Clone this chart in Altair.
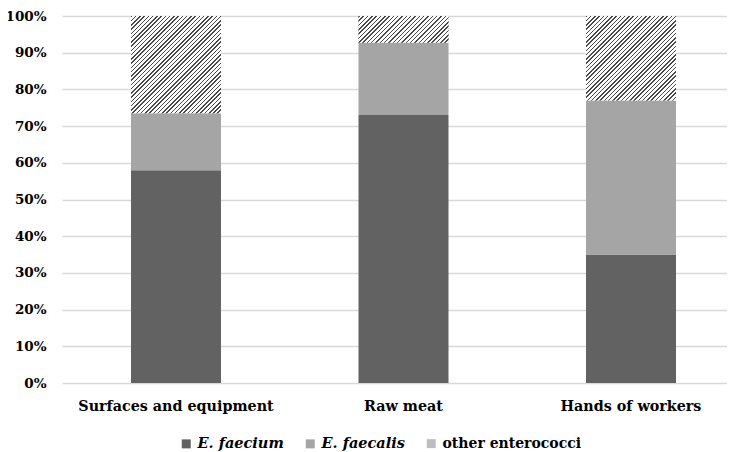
import altair as alt
import pandas as pd

# ---- data ----
categories = ["Surfaces and equipment", "Raw meat", "Hands of workers"]
species = ["E. faecium", "E. faecalis", "other enterococci"]
e_faecium = [0.58, 0.73, 0.35]
e_faecalis = [0.155, 0.197, 0.42]
other_entero = [0.265, 0.073, 0.23]
y_ticks = [0, 0.1, 0.2, 0.3, 0.4, 0.5, 0.6, 0.7, 0.8, 0.9, 1.0]

colors = ["#626262", "#a5a5a5", "#bdbdbd"]
FONT = "DejaVu Serif"

PLOT_W, PLOT_H = 665, 367
BAR_W = 90

rows = []
for i, c in enumerate(categories):
    start = 0.0
    for k, (sp, vals) in enumerate(zip(species, [e_faecium, e_faecalis, other_entero])):
        v = vals[i]
        rows.append({"category": c, "species": sp, "start": start, "end": start + v, "order": k})
        start += v
df = pd.DataFrame(rows)

xscale = alt.Scale(domain=categories, paddingInner=0.6044, paddingOuter=0.2637, align=0.575)
yscale = alt.Scale(domain=[0, 1], nice=False)

x_enc = alt.X("category:N", sort=categories, scale=xscale,
              axis=alt.Axis(title=None, labelAngle=0, domain=False, ticks=False,
                            labelFont=FONT, labelFontSize=14.3, labelFontWeight="bold",
                            labelColor="#000000", labelPadding=16, labelLimit=400))
y_enc = alt.Y("start:Q", scale=yscale,
              axis=alt.Axis(title=None, values=y_ticks, format=".0%", domain=False, ticks=False,
                            labelFont=FONT, labelFontSize=13.5, labelFontWeight="bold",
                            labelColor="#000000", labelPadding=16, labelOverlap=False,
                            grid=True, gridColor="#d9d9d9", gridWidth=1.3))

base = alt.Chart(df).mark_bar().encode(
    x=x_enc,
    y=y_enc,
    y2="end:Q",
    color=alt.Color("species:N", sort=species,
                    scale=alt.Scale(domain=species, range=colors),
                    legend=alt.Legend(title=None, orient="none", legendX=117, legendY=420,
                                      direction="horizontal", symbolType="square",
                                      symbolSize=81, symbolStrokeWidth=0,
                                      labelFont=FONT,
                                      labelFontSize={"expr": "datum.value === 'other enterococci' ? 14 : 14.5"},
                                      labelFontWeight="bold",
                                      labelFontStyle={"expr": "datum.value === 'other enterococci' ? 'normal' : 'italic'"},
                                      labelColor="#000000", labelOffset=4, columnPadding=19,
                                      padding=0, labelLimit=300)),
    order=alt.Order("order:Q"),
)


def hatch_gradient(h, w=BAR_W, period=4.3, dark="#484848", light="#ffffff", frac=0.36):
    # diagonal "/" stripes via a linear gradient in bounding-box units
    s = (w + h) * w / (w * w + h * h)
    n = max(1, int(round((w + h) / period)))
    stops = []
    for k in range(n):
        t0 = k / n
        t1 = (k + frac) / n
        t2 = (k + 1) / n
        stops += [alt.GradientStop(color=dark, offset=t0),
                  alt.GradientStop(color=dark, offset=t1),
                  alt.GradientStop(color=light, offset=t1),
                  alt.GradientStop(color=light, offset=t2)]
    return alt.LinearGradient(gradient="linear", stops=stops,
                              x1=0, y1=0, x2=s, y2=s * h / w)


layers = [base]
for i, c in enumerate(categories):
    h = other_entero[i] * PLOT_H
    lay = alt.Chart(df).transform_filter(
        (alt.datum.category == c) & (alt.datum.species == "other enterococci")
    ).mark_bar(color=hatch_gradient(h)).encode(
        x=x_enc,
        y=y_enc,
        y2="end:Q",
    )
    layers.append(lay)

chart = alt.layer(*layers).properties(
    width=PLOT_W, height=PLOT_H,
    autosize=alt.AutoSizeParams(type="none"),
    padding={"left": 54, "top": 8, "right": 0, "bottom": 69},
    background="#ffffff",
).configure_view(stroke=None)

chart.save("out.html", embed_options={"renderer": "svg", "actions": False})
